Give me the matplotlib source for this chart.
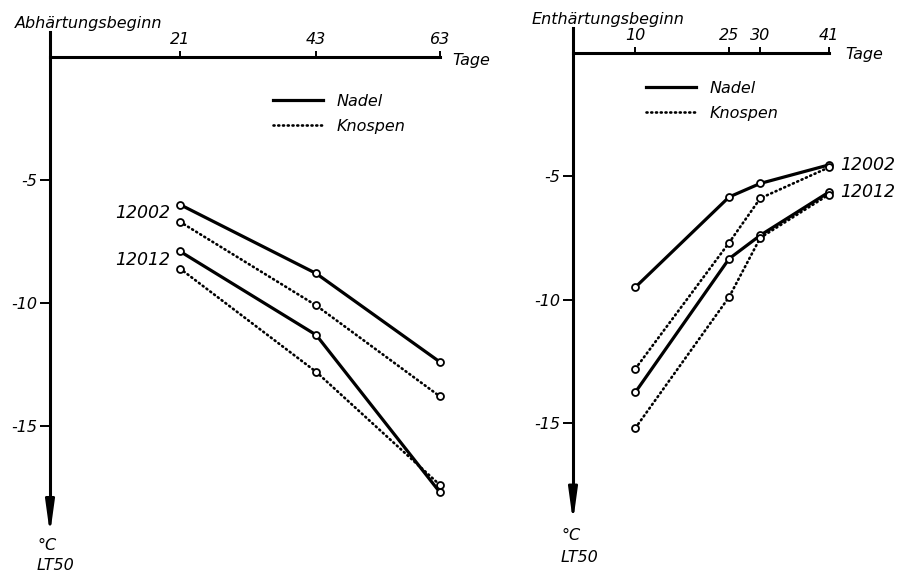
import matplotlib.pyplot as plt
from matplotlib.lines import Line2D

plt.rcParams['font.family'] = ['DejaVu Sans']
plt.rcParams['font.style'] = 'italic'
plt.rcParams['font.size'] = 11.5

W, H = 898, 572

# Abhärtungsbeginn (Tage nach Beginn)
tage_ab = [21, 43, 63]
ab_12002_nadel = [-6.0, -8.8, -12.4]
ab_12002_knospen = [-6.7, -10.1, -13.8]
ab_12012_nadel = [-7.9, -11.3, -17.7]
ab_12012_knospen = [-8.6, -12.8, -17.4]

# Enthärtungsbeginn
tage_ent = [10, 25, 30, 41]
ent_12002_nadel = [-9.5, -5.85, -5.3, -4.55]
ent_12002_knospen = [-12.8, -7.7, -5.9, -4.65]
ent_12012_nadel = [-13.75, -8.35, -7.4, -5.65]
ent_12012_knospen = [-15.2, -9.9, -7.5, -5.75]

yticks = [-5, -10, -15]
ytick_labels = ['-5', '-10', '-15']

fig = plt.figure(figsize=(W / 100, H / 100), dpi=100)


def panel(x0, x1, y0px, scale, xmax, ymin, ymax=1.0):
    # y0px: pixel row of the value 0, scale: pixels per degree
    top = y0px - ymax * scale
    bot = y0px - ymin * scale
    ax = fig.add_axes([x0 / W, 1 - bot / H, (x1 - x0) / W, (bot - top) / H])
    ax.set_xlim(0, xmax)
    ax.set_ylim(ymin, ymax)
    ax.patch.set_visible(False)
    for s in ['bottom', 'right']:
        ax.spines[s].set_visible(False)
    ax.spines['top'].set_position(('data', 0))
    ax.spines['top'].set_bounds(0, xmax)
    ax.spines['left'].set_bounds(ymin + 0.8, ymax)
    for s in ['top', 'left']:
        ax.spines[s].set_linewidth(2.2)
    ax.xaxis.set_ticks_position('top')
    ax.tick_params(axis='x', direction='out', length=4, width=1.4, pad=3)
    ax.set_yticks(yticks)
    ax.set_yticklabels(ytick_labels)
    ax.tick_params(axis='y', direction='out', length=7, width=1.4, pad=2)
    ax.annotate('', xy=(0, ymin), xytext=(0, ymin + 1.0),
                arrowprops=dict(arrowstyle='-|>,head_length=1.6,head_width=0.22',
                                color='k', lw=2, mutation_scale=12,
                                shrinkA=0, shrinkB=0),
                annotation_clip=False)
    return ax


def draw(ax, x, y, solid):
    if solid:
        ax.plot(x, y, color='k', lw=2.3, solid_capstyle='butt', clip_on=False)
    else:
        ax.plot(x, y, color='k', lw=1.9, linestyle=(0, (0.4, 1.4)),
                dash_capstyle='round', clip_on=False)
    ax.plot(x, y, 'o', ms=5, mfc='white', mec='k', mew=1.3, zorder=3, clip_on=False)


def legend(ax, xpx, ypx):
    handles = [Line2D([], [], color='k', lw=2.3),
               Line2D([], [], color='k', lw=1.9, linestyle=(0, (0.4, 1.4)),
                      dash_capstyle='round')]
    fig.legend(handles, ['Nadel', 'Knospen'], loc='upper left',
               bbox_to_anchor=(xpx / W, 1 - ypx / H), frameon=False,
               borderpad=0, borderaxespad=0, handlelength=3.1,
               handletextpad=0.9, labelspacing=0.6)


# left panel
ax1 = panel(50, 440, 57, 24.6, 63, -19.4)
ax1.set_xticks(tage_ab)
ax1.set_xticklabels([str(t) for t in tage_ab])
draw(ax1, tage_ab, ab_12002_nadel, True)
draw(ax1, tage_ab, ab_12002_knospen, False)
draw(ax1, tage_ab, ab_12012_nadel, True)
draw(ax1, tage_ab, ab_12012_knospen, False)
ax1.annotate('12002', xy=(tage_ab[0], ab_12002_nadel[0]), xytext=(-7, -6),
             textcoords='offset points', ha='right', va='center', fontsize=12.5)
ax1.annotate('12012', xy=(tage_ab[0], ab_12012_nadel[0]), xytext=(-7, -6),
             textcoords='offset points', ha='right', va='center', fontsize=12.5)
legend(ax1, 273, 94)

# right panel
ax2 = panel(573, 829, 52.5, 24.7, 41, -19.0)
ax2.set_xticks(tage_ent)
ax2.set_xticklabels([str(t) for t in tage_ent])
draw(ax2, tage_ent, ent_12002_nadel, True)
draw(ax2, tage_ent, ent_12002_knospen, False)
draw(ax2, tage_ent, ent_12012_nadel, True)
draw(ax2, tage_ent, ent_12012_knospen, False)
ax2.annotate('12002', xy=(tage_ent[-1], ent_12002_nadel[-1]), xytext=(8, 0),
             textcoords='offset points', ha='left', va='center', fontsize=12.5)
ax2.annotate('12012', xy=(tage_ent[-1], ent_12012_nadel[-1]), xytext=(8, 0),
             textcoords='offset points', ha='left', va='center', fontsize=12.5)
legend(ax2, 646, 81)

# titles and axis names
fig.text(15 / W, 1 - 28 / H, 'Abhärtungsbeginn', va='baseline')
fig.text(532 / W, 1 - 24 / H, 'Enthärtungsbeginn', va='baseline')
fig.text(452 / W, 1 - 61 / H, 'Tage', va='center')
fig.text(845 / W, 1 - 55 / H, 'Tage', va='center')
fig.text(37 / W, 1 - 546 / H, '°C', va='center')
fig.text(37 / W, 1 - 565 / H, 'LT50', va='center')
fig.text(561 / W, 1 - 536 / H, '°C', va='center')
fig.text(561 / W, 1 - 557 / H, 'LT50', va='center')

fig.savefig('out.png', dpi=100)
